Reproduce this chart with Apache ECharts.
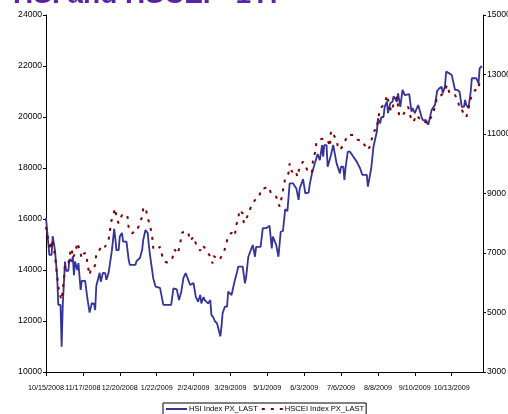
<!DOCTYPE html>
<html>
<head>
<meta charset="utf-8">
<script src="https://cdn.jsdelivr.net/npm/echarts@6/dist/echarts.min.js"></script>
<style>
  html, body { margin: 0; padding: 0; background: #fff; }
  #chart { width: 508px; height: 414px; }
</style>
</head>
<body>
<div id="chart"></div>
<script>
// HSI / HSCEI 1 year, daily calendar axis (day 0 = 10/15/2008)
var FONT = "'Liberation Sans', Arial, sans-serif";

var tickLabels = ['10/15/2008', '11/17/2008', '12/20/2008', '1/22/2009', '2/24/2009', '3/29/2009',
    '5/1/2009', '6/3/2009', '7/6/2009', '8/8/2009', '9/10/2009', '10/13/2009'];
var tickDays = [0, 33, 66, 99, 132, 165, 198, 231, 264, 297, 330, 363];
var leftTicks = [10000, 12000, 14000, 16000, 18000, 20000, 22000, 24000];
var rightTicks = [3000, 5000, 7000, 9000, 11000, 13000, 15000];

// HSI Index PX_LAST (left axis)
var hsiDays = [0, 3, 5, 6, 8, 10, 11, 13, 14, 15, 16, 17, 18, 20, 21, 23, 24, 25, 26, 28, 29, 31, 32, 35, 37, 39, 41, 43, 44, 45,
    48, 49, 51, 53, 54, 56, 57, 59, 61, 62, 63, 65, 66, 68, 69, 72, 74, 75, 80, 81, 82, 84, 86, 87, 89, 91, 92, 93, 96, 98,
    102, 105, 112, 114, 117, 119, 121, 123, 125, 126, 129, 132, 134, 136, 138, 139, 141, 142, 145, 147, 148, 150, 151, 153, 154, 156, 157, 158, 160, 162,
    163, 166, 167, 169, 171, 172, 174, 176, 178, 179, 181, 185, 187, 188, 192, 194, 197, 200, 202, 203, 206, 208, 210, 212, 214, 216, 218, 221, 224, 226,
    227, 230, 232, 235, 236, 238, 241, 242, 243, 245, 247, 248, 249, 251, 252, 255, 257, 258, 260, 263, 264, 266, 267, 268, 270, 272, 275, 278, 279, 281,
    283, 287, 288, 291, 293, 294, 296, 297, 299, 300, 302, 303, 305, 306, 308, 310, 311, 314, 315, 317, 318, 319, 321, 322, 325, 327, 328, 330, 333, 334,
    336, 337, 340, 342, 343, 345, 346, 348, 350, 352, 354, 355, 357, 358, 361, 363, 364, 366, 368, 370, 372, 374, 375, 376, 378, 380, 381, 385, 387, 388, 390];
var hsiValues = [16040, 14590, 14590, 15330, 14780, 13740, 12630, 12630, 10990, 12630, 12700, 14330, 13970, 13970, 14430, 14330, 14520, 13800, 14330, 14000, 14270, 13220, 13570, 13570, 12900, 12330, 12700, 12670, 12430, 13370,
    13890, 13540, 13890, 13880, 13610, 13890, 13890, 14780, 15610, 15250, 14780, 14780, 15310, 15450, 15110, 15110, 14390, 14200, 14200, 14350, 14350, 14470, 14780, 15180, 15570, 15450, 14980, 14600, 13670, 13350,
    13300, 12630, 12630, 13280, 13240, 12820, 13140, 13690, 13880, 13760, 13410, 13490, 12950, 12760, 13020, 12690, 12940, 12820, 12690, 12820, 12240, 12120, 12000, 11910, 11920, 11400, 11780, 12300, 12560, 12560,
    13150, 13020, 12950, 13610, 13930, 14130, 14130, 14130, 13480, 13690, 14520, 14980, 14520, 14910, 14910, 15640, 15640, 15740, 14850, 15310, 14980, 14520, 15500, 15530, 16380, 16310, 17400, 17400, 17200, 16750,
    17200, 17560, 17010, 17030, 17370, 17790, 18250, 18200, 18550, 18310, 18900, 18440, 18900, 18900, 18050, 18510, 18900, 18900, 18180, 17790, 18050, 18050, 17530, 18000, 18640, 18640, 18440, 18250, 18250, 17990,
    17730, 17730, 17270, 17990, 18840, 18840, 19420, 19950, 19750, 19990, 20000, 20400, 20600, 20150, 20540, 20600, 20820, 20600, 20930, 20400, 20350, 21060, 20860, 20900, 20900, 20210, 20350, 20150, 20470, 20540,
    20010, 19880, 19880, 19690, 19690, 20270, 20310, 20470, 21020, 21130, 21190, 20930, 21190, 21780, 21710, 21650, 21690, 21060, 21060, 20990, 20400, 20400, 20670, 20470, 20360, 20990, 21520, 21520, 21320, 21910, 22000];

// HSCEI Index PX_LAST (right axis)
var hsceiDays = [0, 2, 4, 5, 7, 8, 10, 11, 13, 14, 15, 16, 17, 20, 21, 23, 24, 26, 27, 28, 30, 32, 34, 36, 37, 39, 40, 42, 44, 45,
    47, 50, 53, 54, 56, 57, 59, 60, 62, 63, 65, 66, 68, 69, 71, 73, 74, 77, 79, 81, 83, 86, 87, 89, 91, 93, 95, 96, 99, 102,
    104, 106, 109, 113, 115, 118, 120, 122, 124, 127, 129, 132, 135, 138, 140, 143, 147, 149, 150, 155, 159, 161, 163, 166, 169, 170, 172, 173, 176, 177,
    180, 184, 187, 190, 193, 195, 199, 202, 206, 209, 211, 214, 217, 218, 220, 223, 225, 227, 230, 233, 235, 238, 239, 241, 242, 245, 249, 252, 254, 255,
    260, 261, 263, 266, 267, 270, 275, 279, 282, 285, 288, 290, 292, 294, 296, 297, 299, 302, 304, 305, 307, 309, 311, 314, 316, 319, 321, 324, 327, 329,
    331, 334, 337, 339, 342, 344, 346, 350, 354, 356, 359, 361, 364, 366, 369, 370, 372, 376, 378, 379, 381, 384, 387, 388, 390];
var hsceiValues = [7880, 7440, 7100, 7440, 7160, 6930, 6200, 5870, 5530, 5420, 5760, 6090, 6600, 6600, 6930, 7160, 6820, 7000, 7160, 7350, 7120, 6820, 6990, 6990, 6650, 6260, 6430, 6430, 6600, 6990,
    7040, 7270, 7210, 7330, 7440, 7720, 8170, 8280, 8500, 8170, 8000, 8000, 8280, 8330, 8170, 8220, 7830, 7660, 7720, 7720, 7910, 8220, 8500, 8540, 8170, 7940, 7550, 7160, 7100, 7210,
    6900, 6710, 6670, 6820, 7120, 6970, 7330, 7700, 7700, 7720, 7410, 7550, 7210, 7080, 7270, 7120, 6880, 6650, 6900, 6760, 7010, 7270, 7570, 7680, 7570, 7940, 8110, 8450, 8330, 8000,
    8220, 8610, 8780, 8840, 9170, 9170, 9230, 8950, 8890, 8560, 8890, 9510, 9680, 10010, 9730, 9790, 9560, 9900, 10070, 9850, 9680, 9730, 10180, 10400, 10740, 10820, 10850, 10800, 10570, 11110,
    10800, 10600, 10460, 10630, 10570, 10970, 10970, 10800, 10800, 10630, 10460, 10600, 10910, 11130, 11130, 11470, 11860, 11970, 12140, 12310, 11970, 11750, 12010, 12250, 11600, 11600, 11750, 11920, 11450, 11410,
    11640, 11530, 11530, 11410, 11360, 11530, 11640, 12250, 12310, 12420, 12650, 12370, 12310, 12310, 12050, 11830, 11810, 11560, 11810, 12090, 12280, 12480, 12480, 12810, 12880];

function pairs(days, values) {
    var list = [];
    for (var i = 0; i < days.length; i++) {
        list.push([days[i], values[i]]);
    }
    return list;
}

function plain(v) {
    return String(v);
}

var axisLine = { show: true, lineStyle: { color: '#000', width: 1 } };

var option = {
    backgroundColor: '#fff',
    animation: false,
    title: {
        text: 'HSI and HSCEI - 1Yr',
        left: 8, top: -24,
        textStyle: { color: '#5a22aa', fontSize: 28, fontWeight: 'bold', fontFamily: FONT }
    },
    legend: {
        top: 403, left: 163,
        data: ['HSI Index PX_LAST', 'HSCEI Index PX_LAST'],
        borderColor: '#000', borderWidth: 1, borderRadius: 0,
        padding: [2, 2, 2, 2],
        itemWidth: 21, itemHeight: 4, itemGap: 3,
        itemStyle: { opacity: 0 },
        textStyle: { color: '#000', fontFamily: FONT, fontSize: 7.6, padding: [0, 0, 0, -3] }
    },
    grid: { left: 46, right: 25, top: 15, bottom: 42, containLabel: false, outerBoundsMode: 'none' },
    xAxis: {
        type: 'value', min: 0, max: 391,
        axisLine: axisLine,
        splitLine: { show: false },
        axisTick: { show: true, length: 4, customValues: tickDays, lineStyle: { color: '#000' } },
        axisLabel: {
            customValues: tickDays, margin: 13, hideOverlap: false,
            showMinLabel: true, showMaxLabel: true,
            color: '#000', fontFamily: FONT, fontSize: 7.2,
            formatter: function (v) {
                var i = tickDays.indexOf(Math.round(v));
                return i >= 0 ? tickLabels[i] : '';
            }
        }
    },
    yAxis: [{
        type: 'value', min: 10000, max: 24000,
        position: 'left',
        axisLine: axisLine,
        splitLine: { show: false },
        axisTick: { show: true, length: 3, customValues: leftTicks, lineStyle: { color: '#000' } },
        axisLabel: { margin: 4, customValues: leftTicks, formatter: plain, color: '#000', fontFamily: FONT, fontSize: 8.6 }
    }, {
        type: 'value', min: 3000, max: 15000,
        position: 'right',
        axisLine: axisLine,
        splitLine: { show: false },
        axisTick: { show: true, length: 3, customValues: rightTicks, lineStyle: { color: '#000' } },
        axisLabel: { margin: 4, customValues: rightTicks, formatter: plain, color: '#000', fontFamily: FONT, fontSize: 8.6 }
    }],
    series: [{
        name: 'HSI Index PX_LAST',
        type: 'line', yAxisIndex: 0,
        symbol: 'none', smooth: false,
        color: '#333399',
        lineStyle: { color: '#333399', width: 1.8 },
        data: pairs(hsiDays, hsiValues)
    }, {
        name: 'HSCEI Index PX_LAST',
        type: 'line', yAxisIndex: 1,
        symbol: 'none', smooth: false,
        color: '#800000',
        lineStyle: { color: '#800000', width: 2, type: [3, 6] },
        data: pairs(hsceiDays, hsceiValues)
    }]
};

var myChart = echarts.init(document.getElementById('chart'), null, { renderer: 'canvas' });
myChart.setOption(option);
</script>
</body>
</html>
